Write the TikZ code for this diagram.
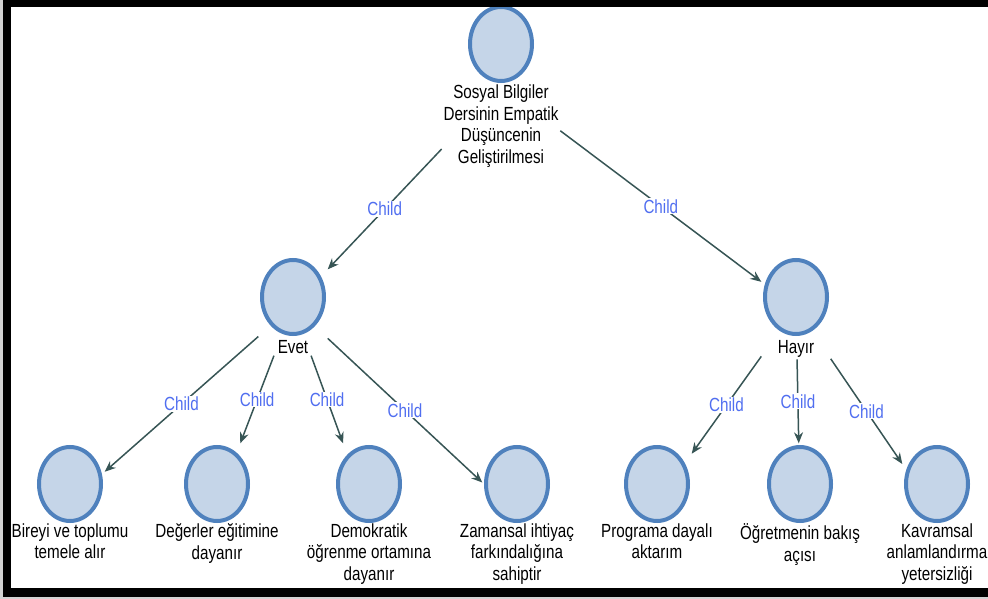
\documentclass[tikz,border=0pt]{standalone}
\usepackage{fontspec}
\setmainfont{Liberation Sans}[FakeStretch=0.8]
\usetikzlibrary{positioning,fit,arrows.meta,shapes.geometric}
\definecolor{nodeline}{RGB}{79,129,189}
\definecolor{nodefill}{RGB}{197,213,232}
\definecolor{arrowcol}{RGB}{55,85,85}
\definecolor{childcol}{RGB}{80,110,240}
\tikzset{
  vtx/.style={ellipse, draw=nodeline, fill=nodefill, line width=4pt, minimum width=62pt, minimum height=74pt, inner sep=0pt},
  captxt/.style={align=center, inner sep=0pt, font=\fontsize{19}{21.5}\selectfont, execute at begin node=\vphantom{Ö}},
  grp/.style={inner sep=1.5pt},
  childarrow/.style={draw=arrowcol, line width=1.5pt, -{Stealth[length=11pt,width=9pt]}},
  lbl/.style={fill=white, text=childcol, inner sep=1pt, font=\fontsize{19}{21.5}\selectfont},
}

\begin{document}
\begin{tikzpicture}[x=1pt,y=-1pt]
\useasboundingbox (0,0) rectangle (988,599);
% nodes
\node [vtx] (top) at (501,44) {};
\node [captxt, below=2pt of top] (top-t) {Sosyal Bilgiler\\Dersinin Empatik\\Düşüncenin\\Geliştirilmesi};
\node [grp, fit=(top)(top-t)] (top-g) {};
\node [vtx] (evet) at (293,297) {};
\node [captxt, below=1.5pt of evet] (evet-t) {Evet};
\node [grp, fit=(evet)(evet-t)] (evet-g) {};
\node [vtx] (hayir) at (796,297) {};
\node [captxt, below=1.5pt of hayir] (hayir-t) {Hayır};
\node [grp, fit=(hayir)(hayir-t)] (hayir-g) {};
\node [vtx] (b1) at (70,484) {};
\node [captxt, below=0.5pt of b1] (b1-t) {Bireyi ve toplumu\\temele alır};
\node [grp, fit=(b1)(b1-t.south)] (b1-g) {};
\node [vtx] (b2) at (217,484) {};
\node [captxt, below=0.5pt of b2] (b2-t) {Değerler eğitimine\\dayanır};
\node [grp, fit=(b2)(b2-t.south)] (b2-g) {};
\node [vtx] (b3) at (369,484) {};
\node [captxt, below=0.5pt of b3] (b3-t) {Demokratik\\öğrenme ortamına\\dayanır};
\node [grp, fit=(b3)(b3-t.south)] (b3-g) {};
\node [vtx] (b4) at (517,484) {};
\node [captxt, below=0.5pt of b4] (b4-t) {Zamansal ihtiyaç\\farkındalığına\\sahiptir};
\node [grp, fit=(b4)(b4-t.south)] (b4-g) {};
\node [vtx] (b5) at (657,484) {};
\node [captxt, below=0.5pt of b5] (b5-t) {Programa dayalı\\aktarım};
\node [grp, fit=(b5)(b5-t.south)] (b5-g) {};
\node [vtx] (b6) at (800,484) {};
\node [captxt, below=0.5pt of b6] (b6-t) {Öğretmenin bakış\\açısı};
\node [grp, fit=(b6)(b6-t.south)] (b6-g) {};
\node [vtx] (b7) at (937,484) {};
\node [captxt, below=0.5pt of b7] (b7-t) {Kavramsal\\anlamlandırma\\yetersizliği};
\node [grp, fit=(b7)(b7-t.south)] (b7-g) {};
% arrows
\draw [childarrow] (top-g) -- node[lbl] {Child} (evet-g);
\draw [childarrow] (top-g) -- node[lbl] {Child} (hayir-g);
\draw [childarrow] (evet-g) -- node[lbl] {Child} (b1-g);
\draw [childarrow] (evet-g) -- node[lbl] {Child} (b2-g);
\draw [childarrow] (evet-g) -- node[lbl] {Child} (b3-g);
\draw [childarrow] (evet-g) -- node[lbl] {Child} (b4-g);
\draw [childarrow] (hayir-g) -- node[lbl] {Child} (b5-g);
\draw [childarrow] (hayir-g) -- node[lbl] {Child} (b6-g);
\draw [childarrow] (hayir-g) -- node[lbl] {Child} (b7-g);
% frame
\fill [gray!35] (0,0) rectangle (3,599);
\fill [gray!35] (0,597) rectangle (988,599);
\fill [black] (3,0) rectangle (988,7);
\fill [black] (3,0) rectangle (11,597);
\fill [black] (3,588) rectangle (988,597);
\end{tikzpicture}
\end{document}
